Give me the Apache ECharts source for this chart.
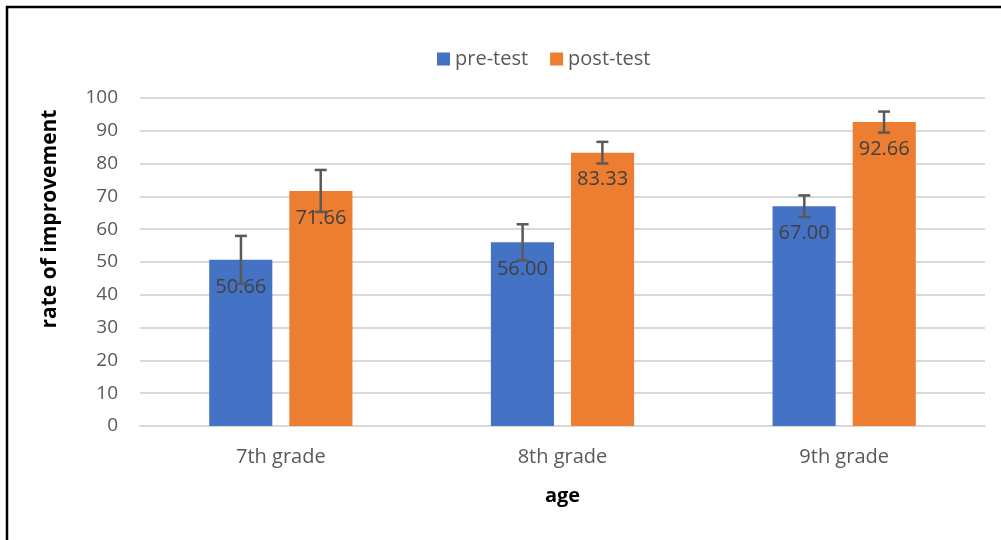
<!DOCTYPE html>
<html>
<head>
<meta charset="utf-8">
<script src="https://cdn.jsdelivr.net/npm/echarts@6/dist/echarts.min.js"></script>
<style>
  html, body { margin: 0; padding: 0; background: #fff; }
  #echart { width: 1001px; height: 540px; }
</style>
</head>
<body>
<div id="echart"></div>
<script>
var categories = ['7th grade', '8th grade', '9th grade'];
var preTest = [50.66, 56.00, 67.00];
var postTest = [71.66, 83.33, 92.66];
var preErr = [7.3, 5.5, 3.3];
var postErr = [6.4, 3.3, 3.2];
var yTicks = [0, 100, 10];

var font = '"Open Sans", "Noto Sans", sans-serif';
var myChart = echarts.init(document.getElementById('echart'));

// 误差线：offset 是相对类目宽度的偏移
function errorBars(values, errs, offset) {
    return {
        type: 'custom',
        z: 10,
        silent: true,
        data: values.map(function (v, i) { return [i, v, errs[i]]; }),
        renderItem: function (params, api) {
            var band = api.size([1, 0])[0];
            var x = api.coord([api.value(0), 0])[0] + band * offset;
            var top = api.coord([api.value(0), api.value(1) + api.value(2)])[1];
            var bot = api.coord([api.value(0), api.value(1) - api.value(2)])[1];
            var cap = 6;
            var style = { stroke: '#595959', lineWidth: 2.5 };
            return {
                type: 'group',
                children: [
                    { type: 'line', shape: { x1: x, y1: top, x2: x, y2: bot }, style: style },
                    { type: 'line', shape: { x1: x - cap, y1: top, x2: x + cap, y2: top }, style: style },
                    { type: 'line', shape: { x1: x - cap, y1: bot, x2: x + cap, y2: bot }, style: style }
                ]
            };
        }
    };
}

var barLabel = {
    show: true,
    position: 'insideTop',
    distance: 17,
    fontSize: 20,
    fontFamily: font,
    color: '#404040',
    formatter: function (p) { return p.value.toFixed(2); }
};

var option = {
    animation: false,
    textStyle: { fontFamily: font },
    graphic: [
        {
            type: 'rect',
            shape: { x: 7, y: 7, width: 1100, height: 700 },
            style: { fill: 'none', stroke: '#000', lineWidth: 2.5 },
            silent: true
        },
        {
            type: 'text',
            x: 50, y: 219,
            rotation: Math.PI / 2,
            style: {
                text: 'rate of improvement',
                fontSize: 21, fontWeight: 'bold', fontFamily: font,
                fill: '#000', align: 'center', verticalAlign: 'middle'
            }
        }
    ],
    legend: {
        top: 44,
        left: 432,
        itemWidth: 13,
        itemHeight: 13,
        itemGap: 22,
        icon: 'rect',
        textStyle: { fontSize: 20, color: '#595959', fontFamily: font },
        data: ['pre-test', 'post-test']
    },
    grid: { left: 140, right: 16, top: 98, bottom: 114 },
    xAxis: {
        type: 'category',
        data: categories,
        name: 'age',
        nameLocation: 'middle',
        nameGap: 60,
        nameTextStyle: { fontSize: 20, fontWeight: 'bold', color: '#000', fontFamily: font },
        axisTick: { show: false },
        axisLine: { lineStyle: { color: '#d9d9d9', width: 2 } },
        axisLabel: { fontSize: 20, color: '#595959', margin: 21, fontFamily: font }
    },
    yAxis: {
        type: 'value',
        min: yTicks[0],
        max: yTicks[1],
        interval: yTicks[2],
        axisLine: { show: false },
        axisTick: { show: false },
        splitLine: { lineStyle: { color: '#d9d9d9', width: 2 } },
        axisLabel: { fontSize: 19, color: '#595959', margin: 22, fontFamily: font }
    },
    series: [
        {
            name: 'pre-test',
            type: 'bar',
            data: preTest,
            barWidth: '22.4%',
            barGap: '27%',
            itemStyle: { color: '#4472C4' },
            label: barLabel
        },
        {
            name: 'post-test',
            type: 'bar',
            data: postTest,
            barWidth: '22.4%',
            itemStyle: { color: '#ED7D31' },
            label: barLabel
        },
        errorBars(preTest, preErr, -0.1416),
        errorBars(postTest, postErr, 0.1416)
    ]
};
myChart.setOption(option);
</script>
</body>
</html>
